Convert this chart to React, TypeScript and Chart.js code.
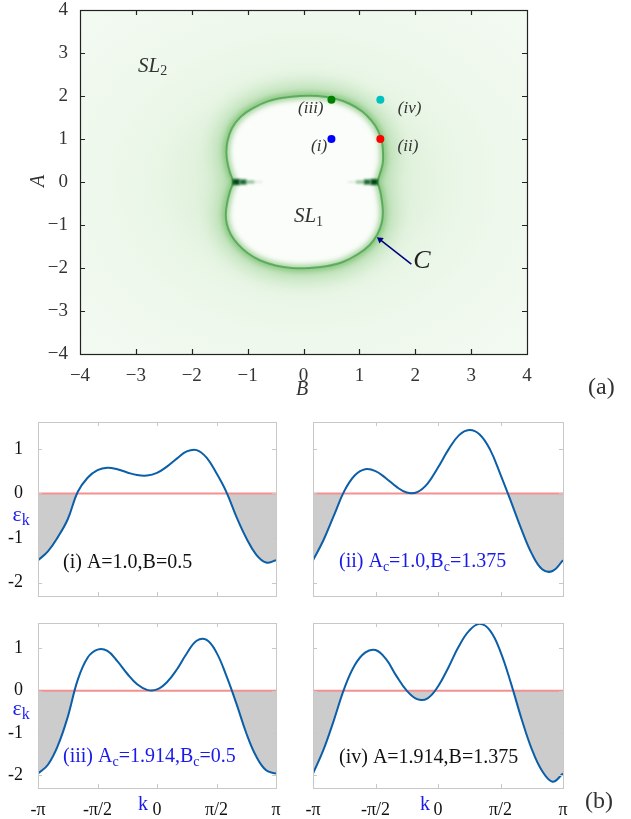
import React, { useEffect, useRef } from 'react';
import { Chart, registerables } from 'chart.js';

Chart.register(...registerables);
Chart.defaults.font.family = '"Liberation Serif", "Times New Roman", serif';

const W = 631;
const H = 819;
const SERIF = '"Liberation Serif", "Times New Roman", serif';

// ---------------- panel (a): phase diagram data ----------------
const phaseTicks = [-4, -3, -2, -1, 0, 1, 2, 3, 4];
// boundary curve C (B, A), going round the two lobes
const boundaryB = [1.32, 1.37, 1.42, 1.42, 1.4, 1.33, 1.22, 1.05, 0.82, 0.55, 0.25, -0.05, -0.35, -0.65, -0.9, -1.12, -1.28, -1.36, -1.38, -1.36, -1.31, -1.26, -1.31, -1.36, -1.39, -1.37, -1.3, -1.17, -1.0, -0.78, -0.5, -0.2, 0.1, 0.4, 0.7, 0.97, 1.18, 1.32, 1.4, 1.42, 1.4, 1.37, 1.32];
const boundaryA = [0.0, 0.2, 0.45, 0.75, 0.95, 1.2, 1.42, 1.64, 1.82, 1.94, 2.0, 2.0, 1.96, 1.87, 1.72, 1.52, 1.25, 0.95, 0.7, 0.45, 0.2, 0.0, -0.2, -0.45, -0.75, -0.98, -1.22, -1.45, -1.65, -1.82, -1.94, -2.0, -2.0, -1.96, -1.86, -1.68, -1.47, -1.22, -0.95, -0.7, -0.42, -0.2, 0.0];
// dark cusps at A = 0
const cuspLeftB = [-1.27, -1.14, -1.02, -0.88, -0.74];
const cuspRightB = [1.33, 1.2, 1.08, 0.94, 0.8];
const cuspA = [0, 0, 0, 0, 0];
// parameter points (i)..(iv)
const markerB = [0.5, 1.375, 0.5, 1.375];
const markerA = [1.0, 1.0, 1.914, 1.914];
const markerNames = ['(i)', '(ii)', '(iii)', '(iv)'];
// arrow pointing to C
const arrowB = [1.93, 1.37];
const arrowA = [-1.91, -1.34];

// ---------------- panel (b): band energies ----------------
const kOverPi = [-1, -0.9167, -0.8333, -0.75, -0.6667, -0.5833, -0.5, -0.4167, -0.3333, -0.25, -0.1667, -0.0833, 0, 0.0833, 0.1667, 0.25, 0.3333, 0.4167, 0.5, 0.5833, 0.6667, 0.75, 0.8333, 0.9167, 1];
const kTickValues = [-1, -0.5, 0, 0.5, 1];
const kTickLabels = ['-π', '-π/2', '0', 'π/2', 'π'];
const epsTicks = [-2, -1, 0, 1];
const zeroLineK = [-1, 1];
const zeroLineEps = [0, 0];
const epsI = [-1.5, -1.3, -0.98, -0.58, 0.03, 0.35, 0.52, 0.575, 0.54, 0.47, 0.41, 0.4, 0.46, 0.6, 0.78, 0.94, 0.97, 0.8, 0.45, 0.03, -0.52, -1.0, -1.37, -1.55, -1.5];
const epsII = [-1.5, -1.05, -0.5, 0.05, 0.4, 0.54, 0.5, 0.34, 0.15, 0.02, 0.03, 0.22, 0.58, 0.98, 1.3, 1.42, 1.32, 0.98, 0.42, -0.18, -0.8, -1.35, -1.7, -1.74, -1.5];
const epsIII = [-1.96, -1.75, -1.3, -0.62, 0.25, 0.78, 0.97, 0.94, 0.7, 0.4, 0.15, 0.02, 0.03, 0.2, 0.5, 0.88, 1.18, 1.2, 0.9, 0.35, -0.3, -1.0, -1.55, -1.88, -1.96];
const epsIV = [-1.96, -1.4, -0.7, 0.05, 0.6, 0.9, 0.96, 0.75, 0.35, 0.0, -0.2, -0.18, 0.1, 0.55, 1.05, 1.42, 1.58, 1.42, 0.92, 0.18, -0.65, -1.38, -1.9, -2.15, -1.96];

// ---------------- helpers ----------------
type Seg = { t: string; sub?: boolean };
type TextItem = {
  segs: Seg[]; x: number; y: number; data?: boolean; font: string; subFont?: string; subDy?: number;
  color: string; align?: 'left' | 'center' | 'right'; baseline?: CanvasTextBaseline; rotate?: number;
};

function textPlugin(items: TextItem[]) {
  return {
    id: 'texts',
    afterDraw(chart: any) {
      const ctx: CanvasRenderingContext2D = chart.ctx;
      for (const it of items) {
        let x = it.x;
        let y = it.y;
        if (it.data) {
          x = chart.scales.x.getPixelForValue(it.x);
          y = chart.scales.y.getPixelForValue(it.y);
        }
        ctx.save();
        ctx.translate(x, y);
        if (it.rotate) ctx.rotate(it.rotate);
        ctx.fillStyle = it.color;
        ctx.textBaseline = it.baseline || 'alphabetic';
        ctx.textAlign = 'left';
        const widths = it.segs.map((s) => {
          ctx.font = s.sub ? (it.subFont as string) : it.font;
          return ctx.measureText(s.t).width;
        });
        const total = widths.reduce((a, b) => a + b, 0);
        let cx = it.align === 'center' ? -total / 2 : it.align === 'right' ? -total : 0;
        it.segs.forEach((s, i) => {
          ctx.font = s.sub ? (it.subFont as string) : it.font;
          ctx.fillText(s.t, cx, s.sub ? (it.subDy ?? 4) : 0);
          cx += widths[i];
        });
        ctx.restore();
      }
    },
  };
}

function frameTicks(color: string, width: number, tickLen: number) {
  return {
    id: 'frameTicks',
    afterDatasetsDraw(chart: any) {
      const { ctx, chartArea: a } = chart;
      const xs = chart.scales.x;
      const ys = chart.scales.y;
      ctx.save();
      ctx.strokeStyle = color;
      ctx.lineWidth = width;
      ctx.beginPath();
      for (const t of xs.ticks) {
        const p = Math.round(xs.getPixelForValue(t.value)) + 0.5;
        if (p < a.left + 3 || p > a.right - 3) continue;
        ctx.moveTo(p, a.bottom); ctx.lineTo(p, a.bottom - tickLen);
        ctx.moveTo(p, a.top); ctx.lineTo(p, a.top + tickLen);
      }
      for (const t of ys.ticks) {
        const p = Math.round(ys.getPixelForValue(t.value)) + 0.5;
        if (p < a.top + 3 || p > a.bottom - 3) continue;
        ctx.moveTo(a.left, p); ctx.lineTo(a.left + tickLen, p);
        ctx.moveTo(a.right, p); ctx.lineTo(a.right - tickLen, p);
      }
      ctx.stroke();
      ctx.strokeRect(Math.round(a.left) + 0.5, Math.round(a.top) + 0.5, Math.round(a.right - a.left), Math.round(a.bottom - a.top));
      ctx.restore();
    },
  };
}

const phaseBackground = {
  id: 'phaseBg',
  beforeDraw(chart: any) {
    const { ctx, chartArea: a } = chart;
    const xs = chart.scales.x;
    const ys = chart.scales.y;
    const cx = xs.getPixelForValue(0);
    const cy = ys.getPixelForValue(0);
    const ux = xs.getPixelForValue(1) - cx;
    const uy = cy - ys.getPixelForValue(1);
    ctx.save();
    ctx.beginPath();
    ctx.rect(a.left, a.top, a.right - a.left, a.bottom - a.top);
    ctx.clip();
    ctx.translate(cx, cy);
    ctx.scale(1, uy / ux);
    const R = ux * 5.7;
    const g = ctx.createRadialGradient(0, 0, 0, 0, 0, R);
    g.addColorStop(0, 'rgb(226,242,222)');
    g.addColorStop(0.25, 'rgb(222,240,218)');
    g.addColorStop(0.33, 'rgb(224,241,220)');
    g.addColorStop(0.46, 'rgb(233,246,230)');
    g.addColorStop(0.67, 'rgb(239,248,237)');
    g.addColorStop(1, 'rgb(243,250,242)');
    ctx.fillStyle = g;
    ctx.fillRect(-R * 1.5, -R * 2, R * 3, R * 4);
    ctx.restore();
  },
};

// blur applied to selected dataset layers (by dataset index)
function blurLayers(blurByIndex: Record<number, number>) {
  return {
    id: 'blurLayers',
    beforeDatasetDraw(chart: any, args: any) {
      const b = blurByIndex[args.index];
      if (b) {
        chart.ctx.save();
        chart.ctx.filter = `blur(${b}px)`;
      }
    },
    afterDatasetDraw(chart: any, args: any) {
      if (blurByIndex[args.index]) chart.ctx.restore();
    },
  };
}

function axisLayout(left: number, top: number, right: number, bottom: number) {
  return {
    padding: { left: 0, top, right: W - right, bottom: 0 },
    xFit: (s: any) => { s.height = H - bottom; s.paddingLeft = 0; s.paddingRight = 0; },
    yFit: (s: any) => { s.width = left; s.paddingTop = 0; s.paddingBottom = 0; },
  };
}

function buildPhase(canvas: HTMLCanvasElement) {
  const L = axisLayout(80, 10, 527, 354);
  const ring = boundaryB.map((b, i) => ({ x: b, y: boundaryA[i] }));
  const cuspL = cuspLeftB.map((b, i) => ({ x: b, y: cuspA[i] }));
  const cuspR = cuspRightB.map((b, i) => ({ x: b, y: cuspA[i] }));
  const cuspColors = ['rgba(0,75,20,1)', 'rgba(0,85,25,0.9)', 'rgba(40,125,50,0.5)', 'rgba(90,165,90,0.18)'];
  const cuspWidths = [6, 5, 3, 1.8];
  const markers = markerB.map((b, i) => ({ x: b, y: markerA[i] }));
  const arrow = arrowB.map((b, i) => ({ x: b, y: arrowA[i] }));
  const lbl = `italic 17px ${SERIF}`;
  const labelPos = [
    { x: 0.28, y: 0.82 }, { x: 1.87, y: 0.82 }, { x: 0.13, y: 1.72 }, { x: 1.9, y: 1.72 },
  ];
  const texts: TextItem[] = [
    ...markerNames.map((n, i) => ({ segs: [{ t: n }], x: labelPos[i].x, y: labelPos[i].y, data: true, font: lbl, color: '#333', align: 'center' as const, baseline: 'middle' as CanvasTextBaseline })),
    { segs: [{ t: 'SL' }, { t: '2', sub: true }], x: -2.7, y: 2.68, data: true, font: `italic 21px ${SERIF}`, subFont: `14px ${SERIF}`, subDy: 5, color: '#333', align: 'center', baseline: 'middle' },
    { segs: [{ t: 'SL' }, { t: '1', sub: true }], x: 0.09, y: -0.81, data: true, font: `italic 21px ${SERIF}`, subFont: `14px ${SERIF}`, subDy: 5, color: '#333', align: 'center', baseline: 'middle' },
    { segs: [{ t: 'C' }], x: 2.12, y: -1.85, data: true, font: `italic 26px ${SERIF}`, color: '#222', align: 'center', baseline: 'middle' },
    { segs: [{ t: 'B' }], x: 302, y: 390, font: `italic 20px ${SERIF}`, color: '#333', align: 'center', baseline: 'middle' },
    { segs: [{ t: 'A' }], x: 39, y: 181, font: `italic 20px ${SERIF}`, color: '#333', align: 'center', baseline: 'middle', rotate: -Math.PI / 2 },
    { segs: [{ t: '(a)' }], x: 588, y: 388, font: `24px ${SERIF}`, color: '#333', align: 'left', baseline: 'middle' },
  ];
  const ringBase = { data: ring, showLine: true, tension: 0.4, pointRadius: 0, fill: false };
  const cuspSeg = { borderColor: (c: any) => cuspColors[c.p0DataIndex], borderWidth: (c: any) => cuspWidths[c.p0DataIndex] };
  return new Chart(canvas, {
    type: 'scatter',
    data: {
      datasets: [
        /*0*/ { data: markers, showLine: false, pointRadius: 4, pointBackgroundColor: ['#0000ff', '#ff0000', '#008000', '#00c0c0'], pointBorderWidth: 0, order: 0 } as any,
        /*1*/ { data: arrow, showLine: true, borderColor: '#000080', borderWidth: 1.5, pointRadius: [0, 4], pointStyle: 'triangle', pointRotation: [0, -52], pointBackgroundColor: '#000080', pointBorderWidth: 0, order: 1 },
        /*2*/ { data: cuspL, showLine: true, tension: 0, pointRadius: 0, borderColor: cuspColors[0], borderWidth: 4, segment: cuspSeg, order: 2 },
        /*3*/ { data: cuspR, showLine: true, tension: 0, pointRadius: 0, borderColor: cuspColors[0], borderWidth: 4, segment: cuspSeg, order: 2 },
        /*4*/ { ...ringBase, borderColor: 'rgba(55,150,60,0.65)', borderWidth: 2, order: 3 },
        /*5*/ { ...ringBase, borderColor: 'rgba(100,180,90,0.55)', borderWidth: 7, order: 4 },
        /*6*/ { ...ringBase, borderColor: 'rgba(0,0,0,0)', borderWidth: 1, fill: 'shape', backgroundColor: 'rgb(250,253,249)', order: 6 },
        /*7*/ { ...ringBase, borderColor: 'rgba(110,190,100,0.5)', borderWidth: 18, order: 7 },
      ] as any,
    },
    options: {
      responsive: false,
      animation: false,
      events: [],
      layout: { padding: L.padding },
      plugins: { legend: { display: false }, tooltip: { enabled: false } },
      scales: {
        x: {
          type: 'linear', min: -4, max: 4,
          grid: { display: false }, border: { display: false },
          afterBuildTicks: (s: any) => { s.ticks = phaseTicks.map((v) => ({ value: v })); },
          afterFit: L.xFit,
          ticks: { padding: 3, autoSkip: false, maxRotation: 0, color: '#333', font: { size: 19 }, callback: (v: any) => (v < 0 ? '\u2212' + Math.abs(v) : String(v)) },
        },
        y: {
          type: 'linear', min: -4, max: 4,
          grid: { display: false }, border: { display: false },
          afterBuildTicks: (s: any) => { s.ticks = phaseTicks.map((v) => ({ value: v })); },
          afterFit: L.yFit,
          ticks: { padding: 4, color: '#333', font: { size: 19 }, callback: (v: any) => (v < 0 ? '\u2212' + Math.abs(v) : String(v)) },
        },
      },
    } as any,
    plugins: [phaseBackground, blurLayers({ 2: 1.3, 3: 1.3, 4: 0.7, 5: 2.5, 7: 10 }), frameTicks('#222', 1.2, 5), textPlugin(texts)] as any,
  });
}

type Panel = {
  eps: number[]; left: number; top: number; right: number; bottom: number; showX: boolean; showY: boolean; texts: TextItem[];
};

const BLUE = 'rgb(25,25,235)';
const ANN = `20px ${SERIF}`;
const SUB = `14px ${SERIF}`;
const epsLabel = (y: number): TextItem => ({ segs: [{ t: 'ε' }, { t: 'k', sub: true }], x: 12.5, y, font: `22px ${SERIF}`, subFont: `16px ${SERIF}`, subDy: 4, color: BLUE });

const panels: Panel[] = [
  {
    eps: epsI, left: 38, top: 422, right: 276, bottom: 596, showX: false, showY: true,
    texts: [
      { segs: [{ t: '(i) A=1.0,B=0.5' }], x: 63, y: 568, font: ANN, color: '#111' },
      epsLabel(521),
    ],
  },
  {
    eps: epsII, left: 313, top: 422, right: 563, bottom: 596, showX: false, showY: false,
    texts: [
      { segs: [{ t: '(ii) A' }, { t: 'c', sub: true }, { t: '=1.0,B' }, { t: 'c', sub: true }, { t: '=1.375' }], x: 339, y: 567, font: ANN, subFont: SUB, subDy: 4, color: BLUE },
    ],
  },
  {
    eps: epsIII, left: 38, top: 623, right: 276, bottom: 788, showX: true, showY: true,
    texts: [
      { segs: [{ t: '(iii) A' }, { t: 'c', sub: true }, { t: '=1.914,B' }, { t: 'c', sub: true }, { t: '=0.5' }], x: 63, y: 761.5, font: ANN, subFont: SUB, subDy: 4, color: BLUE },
      epsLabel(715),
      { segs: [{ t: 'k' }], x: 138, y: 810, font: ANN, color: BLUE },
    ],
  },
  {
    eps: epsIV, left: 313, top: 623, right: 563, bottom: 788, showX: true, showY: false,
    texts: [
      { segs: [{ t: '(iv) A=1.914,B=1.375' }], x: 339, y: 763, font: ANN, color: '#111' },
      { segs: [{ t: 'k' }], x: 420, y: 810, font: ANN, color: BLUE },
      { segs: [{ t: '(b)' }], x: 585, y: 808, font: `24px ${SERIF}`, color: '#333' },
    ],
  },
];

function buildBand(canvas: HTMLCanvasElement, p: Panel) {
  const L = axisLayout(p.left, p.top, p.right, p.bottom);
  const pts = kOverPi.map((k, i) => ({ x: k, y: p.eps[i] }));
  const zero = zeroLineK.map((k, i) => ({ x: k, y: zeroLineEps[i] }));
  return new Chart(canvas, {
    type: 'scatter',
    data: {
      datasets: [
        { data: pts, showLine: true, tension: 0.4, pointRadius: 0, borderWidth: 2, borderColor: '#0b5ea8', fill: false, order: 1 },
        { data: zero, showLine: true, pointRadius: 0, borderWidth: 2, borderColor: 'rgb(243,145,145)', fill: false, order: 2 },
        { data: pts, showLine: true, tension: 0.4, pointRadius: 0, borderWidth: 1, borderColor: 'rgba(0,0,0,0)', fill: { target: { value: 0 }, above: 'rgba(0,0,0,0)', below: 'rgb(204,204,204)' }, order: 3 },
      ] as any,
    },
    options: {
      responsive: false,
      animation: false,
      events: [],
      layout: { padding: L.padding },
      plugins: { legend: { display: false }, tooltip: { enabled: false } },
      scales: {
        x: {
          type: 'linear', min: -1, max: 1,
          grid: { display: false }, border: { display: false },
          afterBuildTicks: (s: any) => { s.ticks = kTickValues.map((v) => ({ value: v })); },
          afterFit: L.xFit,
          ticks: { display: p.showX, padding: 3, autoSkip: false, maxRotation: 0, color: '#111', font: { size: 18 }, callback: (v: any) => kTickLabels[kTickValues.indexOf(v)] },
        },
        y: {
          type: 'linear', min: -2.3, max: 1.6,
          grid: { display: false }, border: { display: false },
          afterBuildTicks: (s: any) => { s.ticks = epsTicks.map((v) => ({ value: v })); },
          afterFit: L.yFit,
          ticks: { display: p.showY, padding: 7, color: '#111', font: { size: 18 } },
        },
      },
    } as any,
    plugins: [frameTicks('rgb(200,200,200)', 1, 4), textPlugin(p.texts)] as any,
  });
}

function ChartCanvas({ build }: { build: (c: HTMLCanvasElement) => Chart }) {
  const ref = useRef<HTMLCanvasElement>(null);
  useEffect(() => {
    const chart = build(ref.current as HTMLCanvasElement);
    return () => chart.destroy();
  }, []);
  return (
    <canvas
      ref={ref}
      width={W}
      height={H}
      style={{ position: 'absolute', left: 0, top: 0, width: W, height: H, pointerEvents: 'none' }}
    />
  );
}

export default function App() {
  return (
    <div style={{ position: 'absolute', left: 0, top: 0, width: W, height: H, background: '#ffffff', overflow: 'hidden' }}>
      <ChartCanvas build={buildPhase} />
      {panels.map((p, i) => (
        <ChartCanvas key={i} build={(c) => buildBand(c, p)} />
      ))}
    </div>
  );
}
